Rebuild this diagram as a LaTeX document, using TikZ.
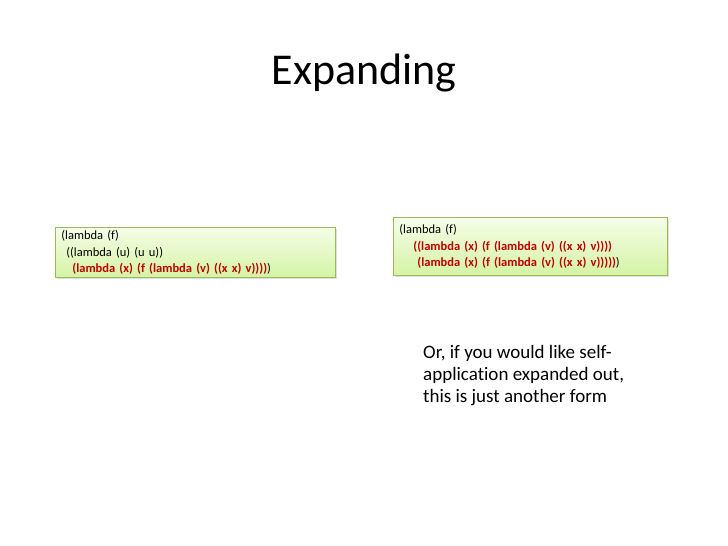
\documentclass[tikz,border=0pt]{standalone}
\usepackage{fontspec}
\setmainfont{Carlito}[Ligatures={NoCommon}]
\usetikzlibrary{shadows}

\definecolor{boxline}{RGB}{155,187,89}
\definecolor{boxtop}{RGB}{246,253,232}
\definecolor{boxbottom}{RGB}{212,244,165}
\definecolor{codered}{RGB}{192,0,0}

\newcommand{\rd}[1]{\textcolor{codered}{\textbf{#1}}}

\tikzset{
  codebox/.style={draw=boxline, line width=0.8pt, top color=boxtop, bottom color=boxbottom,
    anchor=north west, align=left, inner xsep=6pt, inner ysep=0pt,
    font=\fontsize{12.5}{16.3}\selectfont,
    drop shadow={shadow xshift=1.2pt, shadow yshift=-1.2pt, opacity=0.25}},
}

\begin{document}
\begin{tikzpicture}[x=1pt,y=-1pt]
    \useasboundingbox[fill=white] (0,0) rectangle (728,546);

    \node[font=\fontsize{44}{52}\selectfont] (title) at (364,73) {Expanding};

    % the two forms
    \node[codebox, minimum width=280, minimum height=50, text width=268] (left) at (55,227)
        {(lambda (f)\\
         \hspace{5pt}((lambda (u) (u u))\\
         \hspace{11pt}\rd{(lambda (x) (f (lambda (v) ((x x) v))))})};
    \node[codebox, minimum width=274, minimum height=58, text width=262] (right) at (393,217)
        {(lambda (f)\\
         \hspace{14pt}\rd{((lambda (x) (f (lambda (v) ((x x) v))))}\\
         \hspace{18pt}\rd{(lambda (x) (f (lambda (v) ((x x) v)))))})};

    \node[anchor=north west, align=left, inner sep=0pt, font=\fontsize{19}{22}\selectfont] (note) at (423,345)
        {Or, if you would like self-\\
         application expanded out,\\
         this is just another form};
\end{tikzpicture}
\end{document}
